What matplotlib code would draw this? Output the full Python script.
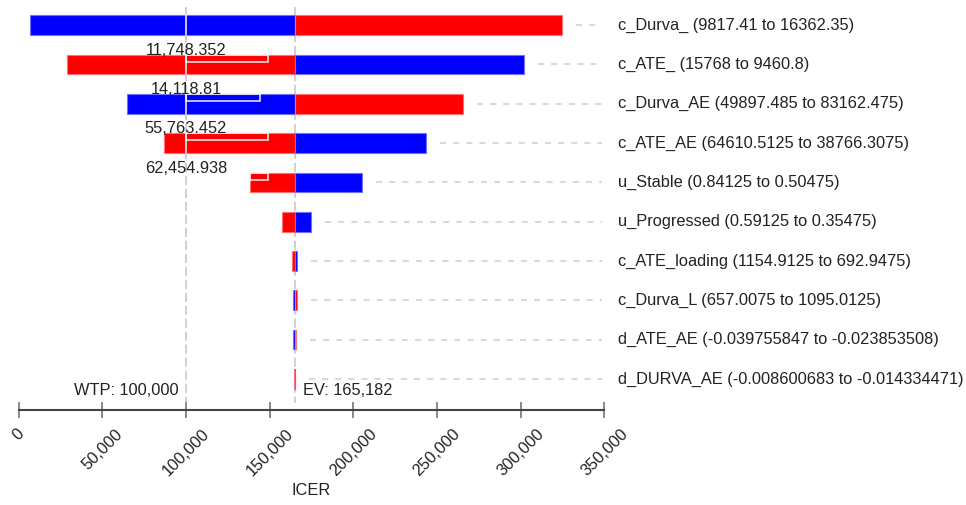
import matplotlib
matplotlib.use("Agg")
from matplotlib import pyplot as plt
from matplotlib.patches import Rectangle
from matplotlib.ticker import FuncFormatter

plt.rcParams['font.family'] = ['Liberation Sans', 'DejaVu Sans']

# parameters, top to bottom
params = ['c_Durva_ (9817.41 to 16362.35)',
          'c_ATE_ (15768 to 9460.8)',
          'c_Durva_AE (49897.485 to 83162.475)',
          'c_ATE_AE (64610.5125 to 38766.3075)',
          'u_Stable (0.84125 to 0.50475)',
          'u_Progressed (0.59125 to 0.35475)',
          'c_ATE_loading (1154.9125 to 692.9475)',
          'c_Durva_L (657.0075 to 1095.0125)',
          'd_ATE_AE (-0.039755847 to -0.023853508)',
          'd_DURVA_AE (-0.008600683 to -0.014334471)']
icer_left = [6750, 28900, 64700, 86900, 138300, 157600, 163600, 163700, 164200, 164400]
icer_right = [324600, 302200, 265800, 243500, 205200, 174700, 166200, 166100, 166000, 165400]
left_color = ['blue', 'red', 'blue', 'red', 'red', 'red', 'red', 'blue', 'blue', 'red']

# threshold markers
thr_rows = [1, 2, 3, 4]
thr_start = [100000, 100000, 100000, 138300]
thr_end = [149000, 144200, 149000, 149000]
thr_text = ['11,748.352', '14,118.81', '55,763.452', '62,454.938']

ev = 165182
wtp = 100000
xticks = [0, 50000, 100000, 150000, 200000, 250000, 300000, 350000]

fill = {'blue': '#0000ff', 'red': '#ff0000'}
edge = {'blue': '#7070ff', 'red': '#ff7070'}
other = {'blue': 'red', 'red': 'blue'}

fig = plt.figure(figsize=(9.66, 5.05), dpi=100)
ax = fig.add_axes([18.7 / 966, 95 / 505, 585.6 / 966, 403 / 505])
ax.set_xlim(0, 350000)
ax.set_ylim(9.79, -0.46)

h = 0.5
for i in range(len(params)):
    c1 = left_color[i]
    c2 = other[c1]
    ax.barh(i, ev - icer_left[i], left=icer_left[i], height=h, color=fill[c1],
            edgecolor=edge[c1], linewidth=0.8, zorder=2)
    ax.barh(i, icer_right[i] - ev, left=ev, height=h, color=fill[c2],
            edgecolor=edge[c2], linewidth=0.8, zorder=2)
    # dashed guide to the label
    ax.plot([icer_right[i] + 8400, 348500], [i, i], color='#d9d9d9', lw=1.5,
            ls=(0, (2.9, 3.4)), zorder=1)
    ax.text(358000, i, params[i], va='center', ha='left', fontsize=11.8,
            color='#222222', clip_on=False)
    if icer_left[i] < wtp < icer_right[i]:
        ax.plot([wtp, wtp], [i - h / 2, i + h / 2], color='#e8e8e8', lw=1.2, zorder=3)

for r, x0, x1, t in zip(thr_rows, thr_start, thr_end, thr_text):
    ax.add_patch(Rectangle((x0, r - h / 2), x1 - x0, 0.18, fill=False,
                           edgecolor='#f4f4f4', lw=1.1, zorder=4))
    ax.text(wtp, r - 0.36, t, ha='center', va='center', fontsize=11.8,
            color='#222222', zorder=5)

ax.vlines([wtp, ev], -0.46, 9.6, colors='#c4c4c4', lw=1.1,
          linestyles=(0, (6, 2.5)), zorder=1)
ax.annotate('WTP: 100,000', (wtp, 9.3), xytext=(-5, 0), textcoords='offset points',
            ha='right', va='center', fontsize=11.8, color='#222222')
ax.annotate('EV: 165,182', (ev, 9.3), xytext=(6, 0), textcoords='offset points',
            ha='left', va='center', fontsize=11.8, color='#222222')

for s in ['left', 'right', 'top']:
    ax.spines[s].set_visible(False)
ax.spines['bottom'].set_color('#444444')
ax.spines['bottom'].set_linewidth(1.5)
ax.set_yticks([])
ax.set_xticks(xticks)
ax.xaxis.set_major_formatter(FuncFormatter(lambda v, p: f'{int(v):,}'))
ax.tick_params(axis='x', direction='inout', length=11.5, width=1.2, color='#777777',
               labelsize=11.8, labelcolor='#222222', pad=6, labelrotation=45)
for lab in ax.get_xticklabels():
    lab.set_horizontalalignment('center')
ax.set_xlabel('ICER', fontsize=11.8, color='#222222', labelpad=3)

fig.savefig('out.png', dpi=100)
